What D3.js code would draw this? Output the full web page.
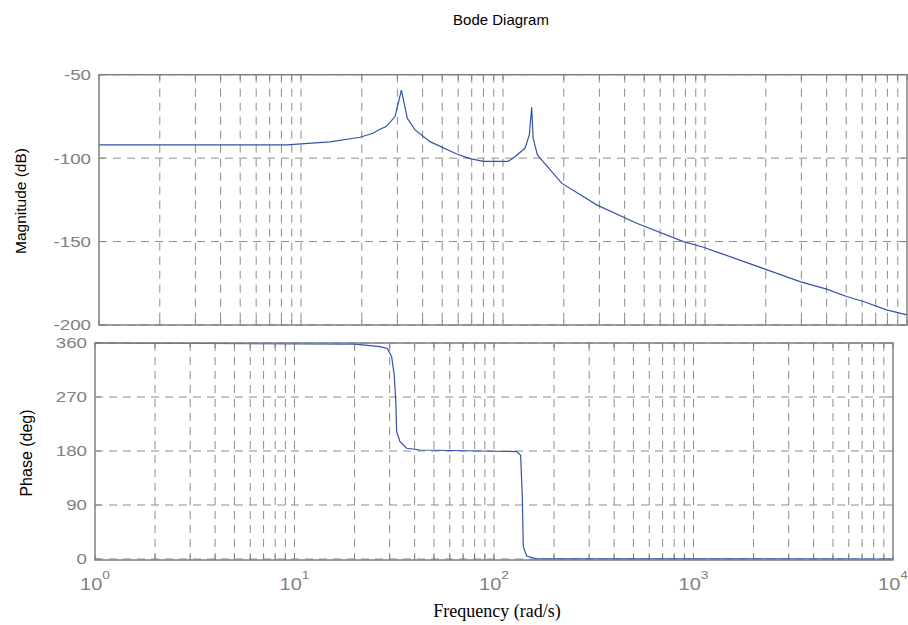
<!DOCTYPE html>
<html>
<head>
<meta charset="utf-8">
<script src="https://cdn.jsdelivr.net/npm/d3@7"></script>
<style>
  body { margin: 0; background: #fff; }
  svg { display: block; }
</style>
</head>
<body>
<svg id="chart" width="908" height="625"></svg>
<script>
// magnitude curve (rad/s, dB)
const magFreq = [1, 8.5, 13.9, 19.6, 22.7, 24.6, 26.4, 29.2, 31.4, 33.6, 36.7, 43.5, 59, 68.7, 80, 106,
  112, 128.5, 135, 138.7, 141, 148, 195, 291, 459, 782, 982, 1186, 1982, 2953, 4000, 5023, 6081, 7925, 10000];
const magDb = [-92.1, -92.1, -90.3, -87.5, -85.1, -82.7, -81.1, -75.1, -59.2, -76.1, -83.1, -90.1, -97.5, -100.3, -101.9, -101.9,
  -100.1, -94.1, -86.1, -69.5, -88.1, -98.1, -115, -128, -139, -150, -153.4, -156.9, -166.5, -174, -178.5, -182.9, -185.9, -190.9, -193.9];

// phase curve (rad/s, deg)
const phaseFreq = [1, 20.1, 26.8, 29.2, 30.7, 31.6, 32.2, 32.5, 33.8, 36.5, 42.6, 130, 136, 138.6, 140.2, 145.8, 163.7, 10000];
const phaseDeg = [360, 358, 354, 351, 337, 307, 262, 212, 195.5, 184.5, 181.7, 179, 173, 104, 20.5, 5, 0.3, 0];

const magTicks = [-200, -150, -100, -50];
const phaseTicks = [0, 90, 180, 270, 360];
const decades = [0, 1, 2, 3, 4];

const svg = d3.select("#chart");
const gridColor = "#8c8c8c";
const frameColor = "#808080";
const lineColor = "#3553a6";
const sans = "'Liberation Sans', Arial, sans-serif";

// the two panels are not quite aligned in the original
const xMag = d3.scaleLog().domain([1, 1e4]).range([99, 907]);
const yMag = d3.scaleLinear().domain([-200, -50]).range([325, 74.7]);
const xPh = d3.scaleLog().domain([1, 1e4]).range([95, 893]);
const yPh = d3.scaleLinear().domain([0, 360]).range([559, 343]);

// every 1..9 position in each decade
const logGrid = d3.range(0, 4).flatMap(d => d3.range(1, 10).map(m => m * Math.pow(10, d))).concat([1e4]);

function drawPanel(x, y, yTicks, freq, vals, top, bottom) {
  const g = svg.append("g");
  const [x0, x1] = x.range();

  // vertical dashed grid
  g.selectAll("line.vgrid")
    .data(logGrid.filter(v => v > 1 && v < 1e4))
    .enter()
    .append("line")
    .attr("x1", d => x(d)).attr("x2", d => x(d))
    .attr("y1", top).attr("y2", bottom)
    .attr("stroke", gridColor)
    .attr("stroke-dasharray", "8,6");

  // horizontal dashed grid
  g.selectAll("line.hgrid")
    .data(yTicks)
    .enter()
    .append("line")
    .attr("x1", x0).attr("x2", x1)
    .attr("y1", d => y(d)).attr("y2", d => y(d))
    .attr("stroke", gridColor)
    .attr("stroke-dasharray", "8,6");

  // small tick marks on the edges
  logGrid.forEach(v => {
    [[bottom, -5], [top, 5]].forEach(([yy, len]) => {
      g.append("line")
        .attr("x1", x(v)).attr("x2", x(v))
        .attr("y1", yy).attr("y2", yy + len)
        .attr("stroke", frameColor);
    });
  });
  yTicks.forEach(t => {
    [[x0, 6], [x1, -6]].forEach(([xx, len]) => {
      g.append("line")
        .attr("x1", xx).attr("x2", xx + len)
        .attr("y1", y(t)).attr("y2", y(t))
        .attr("stroke", frameColor);
    });
  });

  // curve
  const pts = freq.map((f, i) => [f, vals[i]]);
  g.append("path")
    .datum(pts)
    .attr("fill", "none")
    .attr("stroke", lineColor)
    .attr("stroke-width", 1.2)
    .attr("d", d3.line().x(d => x(d[0])).y(d => y(d[1])));

  // frame
  g.append("rect")
    .attr("x", x0).attr("y", top)
    .attr("width", x1 - x0).attr("height", bottom - top)
    .attr("fill", "none")
    .attr("stroke", frameColor)
    .attr("stroke-width", 1.5);

  // y tick labels (the original text looks stretched sideways)
  g.selectAll("text.ytick")
    .data(yTicks)
    .enter()
    .append("text")
    .attr("transform", d => `translate(${x0 - 8},${y(d)}) scale(1.25,1)`)
    .attr("dy", "0.36em")
    .attr("text-anchor", "end")
    .attr("fill", "#808080")
    .style("font", `15px ${sans}`)
    .text(d => d);
}

drawPanel(xMag, yMag, magTicks, magFreq, magDb, 74.7, 325);
drawPanel(xPh, yPh, phaseTicks, phaseFreq, phaseDeg, 343, 560);

// x tick labels 10^k under the phase panel
const xl = svg.selectAll("text.xtick")
  .data(decades)
  .enter()
  .append("text")
  .attr("transform", d => `translate(${xPh(Math.pow(10, d))},590) scale(1.25,1)`)
  .attr("text-anchor", "middle")
  .attr("fill", "#808080")
  .style("font", `16px ${sans}`);
xl.append("tspan").text("10");
xl.append("tspan").attr("dy", -11).style("font-size", "11px").text(d => d);

// titles
svg.append("text")
  .attr("x", 501).attr("y", 25)
  .attr("text-anchor", "middle")
  .style("font", `15px ${sans}`)
  .text("Bode Diagram");

svg.append("text")
  .attr("transform", "translate(26,201) rotate(-90)")
  .attr("text-anchor", "middle")
  .style("font", `15.5px ${sans}`)
  .text("Magnitude (dB)");

svg.append("text")
  .attr("transform", "translate(32,453) rotate(-90)")
  .attr("text-anchor", "middle")
  .style("font", `16px ${sans}`)
  .text("Phase (deg)");

svg.append("text")
  .attr("x", 497).attr("y", 617)
  .attr("text-anchor", "middle")
  .style("font", "18px 'Liberation Serif', 'Times New Roman', serif")
  .text("Frequency (rad/s)");
</script>
</body>
</html>
